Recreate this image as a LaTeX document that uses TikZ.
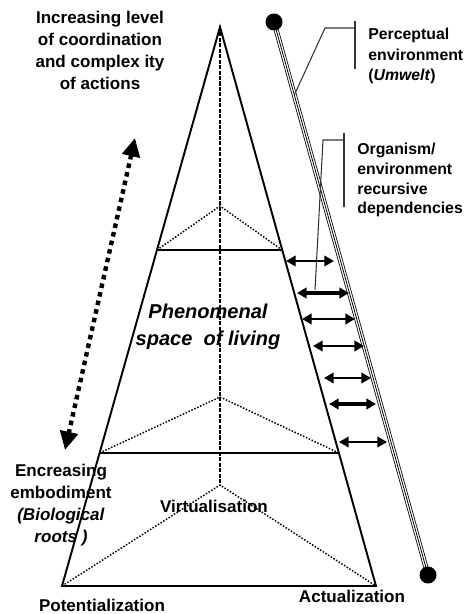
\documentclass[tikz,border=0pt]{standalone}
\usepackage{fontspec}
\setmainfont{Liberation Sans}
\usetikzlibrary{positioning,calc,arrows.meta}

\begin{document}
\begin{tikzpicture}[
    x=0.02cm, y=-0.02cm,
    every node/.style={font=\fontsize{9.7}{12.5}\selectfont\bfseries, inner sep=0pt, align=center},
    sidelabel/.style={font=\fontsize{9}{11.6}\selectfont\bfseries, anchor=west, align=left},
    edge/.style={line width=1.1pt, line join=miter},
    facet/.style={line width=0.85pt, dash pattern=on 0.85pt off 0.95pt},
    axis/.style={line width=1.7pt, dash pattern=on 2.3pt off 0.8pt},
    growth/.style={line width=2.5pt, dash pattern=on 2.6pt off 2.4pt,
        {Triangle[length=10.5pt,width=10pt]}-{Triangle[length=10.5pt,width=10pt]}},
    link/.style={{Triangle[length=5.5pt,width=6pt]}-{Triangle[length=5.5pt,width=6pt]}},
    callout/.style={line width=0.6pt, black!80},
]
\useasboundingbox (0,0) rectangle (464,614);

% =====================================================================
% Pyramid of the phenomenal space
% =====================================================================
\coordinate (apex) at (220,27);
\coordinate (bl) at (62,586);
\coordinate (br) at (376,586);
\coordinate (upl) at ($(apex)!0.399!(bl)$);
\coordinate (upr) at ($(apex)!0.399!(br)$);
\coordinate (uptop) at (220,206);
\coordinate (lol) at ($(apex)!0.762!(bl)$);
\coordinate (lor) at ($(apex)!0.762!(br)$);
\coordinate (lotop) at (220,397);
\coordinate (basetop) at (220,485);

% dotted facets (hidden back edges)
\draw[facet] (upl) -- (uptop) -- (upr);
\draw[facet] (lol) -- (lotop) -- (lor);
\draw[facet] (bl) -- (basetop) -- (br);
\draw[axis] (apex) -- (basetop);

% solid outline and levels
\draw[edge] (bl) -- (apex) -- (br) -- cycle;
\draw[edge] (upl) -- (upr);
\draw[edge] (lol) -- (lor);

\node[font=\fontsize{11.4}{15.3}\selectfont\bfseries\itshape] (space) at (208,327)
    {Phenomenal\\space\ \ of living};
\node (virt) at (214,506) {Virtualisation};
\node (pot) at (102,605) {Potentialization};
\node (act) at (352,596) {Actualization};

% =====================================================================
% Left side: growth of coordination vs. embodiment
% =====================================================================
\node (coord) at (100,50) {Increasing level\\of coordination\\and complex ity\\of actions};
\node (embod) at (61,505) {Encreasing\\embodiment\\\textit{(Biological}\\\textit{roots )}};
\coordinate (gtop) at (135,138);
\coordinate (gbot) at (65,450);
\draw[growth] (gtop) -- (gbot);

% =====================================================================
% Right side: perceptual environment (Umwelt)
% =====================================================================
\coordinate (u1) at (274,22);
\coordinate (u2) at (428,575);
\draw[line width=2.8pt] (u1) -- (u2);
\draw[line width=1.9pt, white] (u1) -- (u2);
\draw[line width=0.45pt] (u1) -- (u2);
\fill (u1) circle[radius=0.17cm];
\fill (u2) circle[radius=0.17cm];

% recursive dependencies between organism and environment
\foreach \i/\y/\xl/\xr/\w in {1/261/286/334/1.2, 2/293/297/349/1.8, 3/319/302/355/1.5,
    4/346/313/364/1.3, 5/378/324/371/1.2, 6/404/329/376/1.8, 7/442/339/387/1.2} {
    \coordinate (l\i) at (\xl,\y);
    \coordinate (r\i) at (\xr,\y);
    \draw[link, line width=\w pt] (l\i) -- (r\i);
}

% labels with their callout brackets
\node[sidelabel] (perc) at (368,56) {Perceptual\\environment\\(\textit{Umwelt})};
\draw[callout] (355,21) -- (355,69);
\draw[callout] (355,28) -- (325,28) -- ($(u1)!0.132!(u2)$);

\node[sidelabel, font=\fontsize{9}{11.3}\selectfont\bfseries] (org) at (357,180)
    {Organism/\\environment\\recursive\\dependencies};
\draw[callout] (344,133) -- (344,207);
\draw[callout] (344,140) -- (323,140) -- (315,290);

\end{tikzpicture}
\end{document}
